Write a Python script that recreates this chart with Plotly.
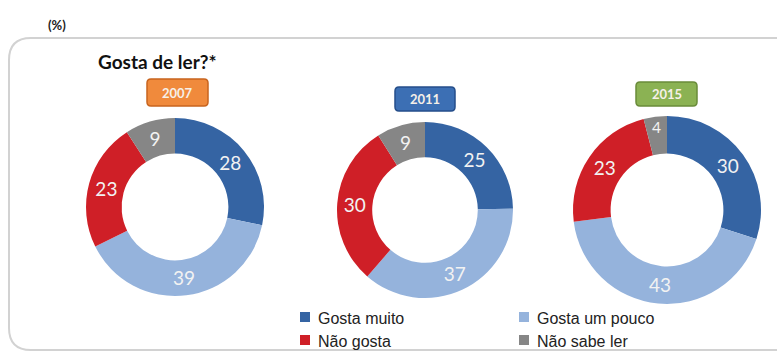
import plotly.graph_objects as go

W, H = 777, 354

# Survey answers, in percent
categories = ["Gosta muito", "Gosta um pouco", "Não gosta", "Não sabe ler"]
years = ["2007", "2011", "2015"]
values_2007 = [28, 39, 23, 9]
values_2011 = [25, 37, 30, 9]
values_2015 = [30, 43, 23, 4]
series = [values_2007, values_2011, values_2015]

slice_colors = ["#3564A3", "#95B3DC", "#CF1F27", "#868686"]
badge_fill = ["#F08A3C", "#3C6FB4", "#8BB253"]
badge_line = ["#C8641E", "#254E8A", "#6A8C3A"]

# donut geometry in pixels: centre x, centre y, outer radius
donut_geo = [(175, 207, 89), (425, 210, 88), (667, 210, 94)]
# year badges: x0, y0, x1, y1 in pixels
badge_box = [(147, 79, 208, 106), (395, 87, 455, 111), (636, 82, 697, 106)]


def px(x):
    return x / W


def py(y):
    return 1 - y / H


def rounded_path(x0, y0, x1, y1, r):
    """Rounded rectangle in paper coordinates, given pixel corners."""
    pts = [
        f"M {px(x0 + r)} {py(y0)}",
        f"L {px(x1 - r)} {py(y0)}",
        f"Q {px(x1)} {py(y0)} {px(x1)} {py(y0 + r)}",
        f"L {px(x1)} {py(y1 - r)}",
        f"Q {px(x1)} {py(y1)} {px(x1 - r)} {py(y1)}",
        f"L {px(x0 + r)} {py(y1)}",
        f"Q {px(x0)} {py(y1)} {px(x0)} {py(y1 - r)}",
        f"L {px(x0)} {py(y0 + r)}",
        f"Q {px(x0)} {py(y0)} {px(x0 + r)} {py(y0)}",
        "Z",
    ]
    return " ".join(pts)


def label(x, y, text, size, color, family="Lato", xanchor="left"):
    return dict(x=px(x), y=py(y), xref="paper", yref="paper", text=text,
                showarrow=False, xanchor=xanchor, yanchor="middle",
                font=dict(family=family, size=size, color=color))


fig = go.Figure()

for vals, (cx, cy, r) in zip(series, donut_geo):
    fig.add_trace(go.Pie(
        labels=categories,
        values=vals,
        hole=0.6,
        sort=False,
        direction="clockwise",
        rotation=0,
        marker=dict(colors=slice_colors, line=dict(width=0)),
        textinfo="value",
        textposition="inside",
        insidetextorientation="horizontal",
        textfont=dict(family="Lato", size=19, color="#F2F2F2"),
        domain=dict(x=[px(cx - r), px(cx + r)], y=[py(cy + r), py(cy - r)]),
        showlegend=False,
        hoverinfo="label+value",
    ))

shapes = []
# outer panel
shapes.append(dict(type="path", xref="paper", yref="paper",
                   path=rounded_path(9, 38, 800, 350, 22),
                   line=dict(color="#D2D2D2", width=2), fillcolor="rgba(0,0,0,0)",
                   layer="below"))

annotations = []
annotations.append(label(46, 25, "<b>(%)</b>", 13, "#222222"))
annotations.append(label(96, 61, "<b>Gosta de ler?*</b>", 19, "#111111"))

for yr, (x0, y0, x1, y1), fc, lc in zip(years, badge_box, badge_fill, badge_line):
    shapes.append(dict(type="path", xref="paper", yref="paper",
                       path=rounded_path(x0, y0, x1, y1, 4),
                       line=dict(color=lc, width=1.5), fillcolor=fc))
    annotations.append(label((x0 + x1) / 2, (y0 + y1) / 2, f"<b>{yr}</b>", 13,
                             "#F6F0E8", xanchor="center"))

# legend, two columns
legend_pos = [(300, 317), (519, 317), (300, 340), (519, 340)]
for name, col, (lx, ly) in zip(categories, slice_colors, legend_pos):
    shapes.append(dict(type="rect", xref="paper", yref="paper",
                       x0=px(lx), x1=px(lx + 10), y0=py(ly + 5), y1=py(ly - 5),
                       line=dict(width=0), fillcolor=col))
    annotations.append(label(lx + 16, ly + 1, name, 16, "#222222",
                             family="Liberation Sans"))

fig.update_layout(
    width=W, height=H,
    margin=dict(l=0, r=0, t=0, b=0),
    paper_bgcolor="white",
    plot_bgcolor="white",
    shapes=shapes,
    annotations=annotations,
)

fig.write_html("out.html")
